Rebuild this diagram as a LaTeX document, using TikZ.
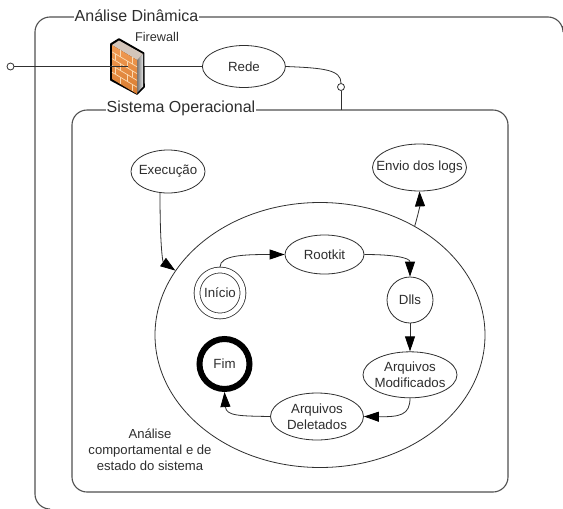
\documentclass[tikz,border=0pt]{standalone}
\usepackage{fontspec}
\setmainfont{Liberation Sans}
\usepackage{xcolor}
\usepackage{tikz}
\usetikzlibrary{shapes,arrows.meta,positioning}
\definecolor{linegray}{HTML}{303030}
\definecolor{framegray}{HTML}{505050}
\definecolor{textgray}{HTML}{2E2E2E}
\definecolor{brick}{HTML}{F08A36}
\definecolor{mortar}{HTML}{FAD9B0}

\begin{document}
\begin{tikzpicture}[x=1pt, y=-1pt, node distance=28pt,
    state/.style={ellipse, draw=linegray, fill=white, text=textgray, line width=0.8pt, inner xsep=-20pt, inner ysep=-12pt, align=center, font=\fontsize{13.3}{16}\selectfont},
    round/.style={circle, draw=linegray, fill=white, text=textgray, line width=0.8pt, inner sep=0pt, font=\fontsize{13.3}{16}\selectfont},
    frame/.style={draw=framegray, line width=1.1pt, rounded corners=15pt},
    title/.style={fill=white, text=textgray, inner sep=1pt, font=\fontsize{16}{19}\selectfont},
    port/.style={circle, draw=linegray, fill=white, line width=0.8pt, inner sep=0pt, minimum size=7pt},
    line/.style={draw=linegray, line width=0.8pt},
    arrow/.style={line, -{Triangle[length=15pt,width=10pt,black]}}]

    \useasboundingbox (0,0) rectangle (563,509);

    \coordinate (outertop) at (563,26);
    \coordinate (outerbottom) at (45,509);
    \draw [frame] (outertop) -- ++(0,-9) -- (35,17) -- (35,509) -- (outerbottom);
    \draw [frame, fill=white] (72,110) rectangle (508,492);
    \node [title] (dinamica) at (136.5,16) {Análise Dinâmica};
    \node [title] (sistema) at (181,108.5) {Sistema Operacional};

    \node [draw=linegray, fill=white, line width=0.8pt, ellipse, minimum width=330pt, minimum height=265pt, inner sep=0pt] (analise) at (320,335) {};

    \node [minimum width=33pt, minimum height=55pt, inner sep=0pt, outer sep=0pt] (firewall) at (127.5,66.5) {};
    \node [text=textgray, font=\fontsize{12.7}{15}\selectfont, inner sep=0pt] (firewalltext) at (157,36.5) {Firewall};
    \node [state, right=58pt of firewall, minimum width=83pt, minimum height=42pt] (rede) {Rede};
    \node [port] (entrada) at (10.5,66.5) {};
    \node [port] (saida) at (341,87) {};
    \coordinate (sistematop) at (341,110);

    \path [line] (firewall.east) -- (rede);
    \path [line] (rede.east) .. controls (325,68) and (341,70) .. (saida.north);
    \path [line] (saida) -- (sistematop);

    \filldraw [black, line join=round, line width=1.6pt] (111,44) -- (119,39) -- (143.5,53) -- (144,87) -- (137,94) -- (111,80) -- cycle;
    \shade [left color=black!55, right color=black!10] (137,60) -- (143,54) -- (143,86.5) -- (137,93) -- cycle;
    \fill [brick!45!black!30!white] (112,45) -- (119,40.5) -- (143,54) -- (137,60) -- cycle;
    \begin{scope}[shift={(112,45)}, yslant=-0.6]
        \shade [top color=brick!85!white, bottom color=brick!90!black] (0,0) rectangle (25,34);
        \foreach \y in {6.8,13.6,20.4,27.2} {
            \draw [mortar, line width=0.7pt] (0,\y) -- (25,\y);
        }
        \foreach \y/\x in {0/8,0/20,6.8/3,6.8/15,13.6/8,13.6/20,20.4/3,20.4/15,27.2/8,27.2/20} {
            \draw [mortar, line width=0.7pt] (\x,\y) -- (\x,\y+6.8);
        }
    \end{scope}

    \path [line] (entrada) -- (firewall.center);

    \node [state, minimum width=74pt, minimum height=43pt] (execucao) at (168,171.5) {Execução};
    \node [state, minimum width=94pt, minimum height=47pt] (envio) at (419.5,167.5) {Envio dos logs};
    \node [state, minimum width=79pt, minimum height=39pt] (rootkit) at (324.5,254.5) {Rootkit};
    \node [round, minimum size=46pt] (dlls) at (410,300) {Dlls};
    \node [state, below=28pt of dlls, minimum width=94pt, minimum height=46pt] (modificados) {Arquivos\\Modificados};
    \node [state, minimum width=93pt, minimum height=47pt] (deletados) at (317,416.5) {Arquivos\\Deletados};
    \node [round, double=white, double distance=5pt, minimum size=46pt] (inicio) at (220,293) {Início};
    \node [round, draw=black, line width=6pt, minimum size=50pt] (fim) at (224.5,364) {Fim};
    \node [text=textgray, align=center, font=\fontsize{13.1}{16}\selectfont, inner sep=0pt] (legenda) at (150,450) {Análise\\comportamental e de\\estado do sistema};

    \path [arrow] (160,193) .. controls (160,250) and (163,262) .. (analise.156);
    \path [arrow] (analise.49) .. controls (418,215) and (420,205) .. (envio.south);
    \path [arrow] (220,267) .. controls (220,255) and (245,254.5) .. (rootkit.west);
    \path [arrow] (rootkit.east) .. controls (395,254.5) and (410,258) .. (dlls.north);
    \path [arrow] (dlls) -- (modificados);
    \path [arrow] (modificados.south) .. controls (410,415) and (400,417) .. (deletados.east);
    \path [arrow] (deletados.west) .. controls (240,416) and (226,416) .. (fim.south);
\end{tikzpicture}
\end{document}
